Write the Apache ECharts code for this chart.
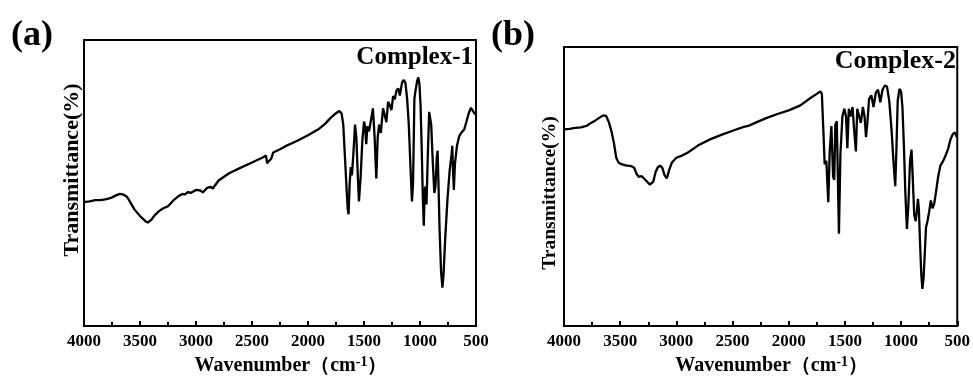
<!DOCTYPE html>
<html><head><meta charset="utf-8">
<script src="https://cdn.jsdelivr.net/npm/echarts@6/dist/echarts.min.js"></script>
<style>html,body{margin:0;padding:0;background:#fff}#c{width:973px;height:382px}</style>
</head><body><div id="c"></div>
<script>
// Panel (a) Complex-1: wavenumber (cm-1) and transmittance (arbitrary %, 0-100 of frame)
var wnA = [4000,3950,3900,3850,3800,3760,3720,3680,3650,3620,3600,3550,3500,3450,3430,3400,3370,3330,3300,3250,3200,3150,3120,3100,3070,3050,3000,2960,2940,2900,2870,2850,2800,2750,2700,2600,2500,2400,2375,2365,2350,2330,2310,2250,2200,2100,2000,1900,1850,1800,1750,1720,1700,1685,1670,1655,1645,1638,1628,1618,1608,1595,1580,1568,1555,1545,1530,1515,1500,1490,1480,1470,1455,1440,1420,1405,1390,1378,1365,1350,1330,1315,1300,1285,1270,1255,1240,1225,1210,1195,1180,1160,1145,1130,1115,1100,1085,1072,1062,1050,1040,1025,1015,1005,995,985,975,966,958,950,942,930,918,910,900,885,872,862,850,843,835,825,812,800,790,775,755,735,718,712,705,698,688,670,650,625,605,585,565,545,530,515,500];
var tA = [43.3,43.6,44.0,44.0,44.4,44.8,45.6,46.2,46.0,45.3,44.2,40.8,38.5,36.6,36.2,37.1,38.7,40.2,41.0,41.9,44.0,45.6,46.2,46.0,46.9,46.5,47.6,47.4,46.7,48.3,48.7,48.1,50.8,52.2,53.5,55.4,57.2,59.0,59.6,56.9,57.6,58.4,60.7,61.8,62.9,64.7,66.7,69.0,70.6,72.7,74.4,75.2,74.3,70.4,59.0,47.6,40.8,39.1,49.9,55.6,52.7,60.1,70.4,65.8,52.2,43.6,52.2,64.7,71.5,69.8,63.6,69.8,68.1,68.6,76.1,65.8,51.6,65.8,70.4,67.5,76.1,76.7,71.3,78.4,77.2,75.5,80.4,79.3,82.3,83.1,80.6,85.2,86.0,85.0,79.5,70.4,55.6,43.6,49.9,79.5,82.3,85.8,86.9,84.6,77.2,62.6,45.3,35.1,47.6,48.8,42.5,60.1,74.9,75.5,70.4,56.7,46.5,48.8,59.0,61.3,49.9,33.5,19.1,13.4,18.0,30.5,44.2,54.4,60.1,63.0,54.4,47.6,56.7,63.0,66.4,67.9,68.7,71.5,74.4,76.3,76.1,74.4,73.8];
// Panel (b) Complex-2
var wnB = [4000,3950,3900,3850,3800,3760,3720,3680,3650,3625,3600,3575,3555,3535,3515,3490,3450,3400,3375,3355,3335,3310,3285,3260,3235,3220,3205,3185,3165,3145,3125,3105,3085,3065,3040,3000,2950,2900,2850,2800,2700,2600,2500,2400,2360,2300,2200,2100,2000,1900,1800,1750,1720,1705,1692,1680,1665,1648,1635,1620,1605,1595,1585,1572,1560,1553,1540,1522,1505,1490,1478,1465,1450,1432,1418,1402,1390,1375,1358,1340,1325,1312,1300,1285,1265,1245,1225,1205,1185,1165,1145,1125,1105,1085,1068,1052,1042,1030,1015,1000,988,975,962,948,935,920,907,897,883,870,860,850,842,832,820,810,800,790,778,765,750,735,720,705,690,670,650,625,600,580,560,540,520,505];
var tB = [70.5,70.7,71.0,71.2,71.7,72.8,73.7,74.8,75.5,75.3,73.0,69.4,65.4,60.3,58.6,58.0,57.6,57.3,56.7,54.6,53.5,53.7,52.8,51.7,50.7,50.1,51.8,55.2,56.9,57.5,56.7,54.1,52.9,55.8,58.6,60.3,61.1,62.1,63.5,64.9,66.9,68.5,70.0,71.4,71.7,72.8,74.5,76.0,77.3,79.0,81.9,83.2,84.1,83.2,70.5,58.0,59.2,44.4,62.6,71.7,53.5,52.4,72.2,73.4,47.8,33.1,61.5,75.1,77.9,75.1,63.7,77.9,75.1,78.5,70.5,62.6,77.9,77.3,72.8,78.5,75.1,67.7,72.8,81.3,82.7,78.5,83.6,84.7,80.2,84.7,86.2,85.8,80.6,70.5,59.2,50.1,62.6,80.7,85.0,84.1,78.5,64.9,47.8,34.8,43.3,59.2,63.2,54.1,39.9,37.6,41.0,45.6,42.2,30.8,18.4,13.3,17.2,25.2,35.4,37.6,41.0,45.0,42.2,43.9,47.8,53.5,57.5,59.2,61.5,63.7,66.9,68.8,69.4,67.7];
var xTicks = {min:500, max:4000, interval:500};
var panelTags = ['(a)','(b)'];
var sampleNames = ['Complex-1','Complex-2'];
var yTitle = 'Transmittance(%)';

var SERIF = '"Liberation Serif","Times New Roman",serif';
function pairs(x,y){return x.map(function(v,i){return [v,y[i]];});}
var grids = [
  {left:84, top:40, width:392, height:293},
  {left:564, top:47, width:396, height:294}
];
function xAxis(i){
  return {
    gridIndex:i, type:'value', inverse:true, min:xTicks.min, max:xTicks.max, interval:xTicks.interval,
    axisLine:{show:true, lineStyle:{color:'#000', width:2}},
    axisTick:{show:true, inside:true, length:5, lineStyle:{color:'#000', width:2}},
    minorTick:{show:true, splitNumber:2, length:4, lineStyle:{color:'#000', width:2}},
    splitLine:{show:false},
    axisLabel:{color:'#000', fontFamily:SERIF, fontWeight:'bold', fontSize:17, margin:7,
      formatter:function(v){return String(v);}},
    name:'{t|Wavenumber}{p|（cm}{s|-1}{p|）}',
    nameLocation:'middle', nameGap:28,
    nameTextStyle:{padding:[0,0,0,22], rich:{
      t:{fontFamily:SERIF, fontWeight:'bold', fontSize:20, color:'#000', lineHeight:22},
      p:{fontFamily:SERIF, fontWeight:'bold', fontSize:20, color:'#000', lineHeight:22},
      s:{fontFamily:SERIF, fontWeight:'bold', fontSize:14, color:'#000', verticalAlign:'top', lineHeight:22, padding:[0,0,8,0]}
    }}
  };
}
function yAxis(i){
  return {
    gridIndex:i, type:'value', min:0, max:100,
    axisLine:{show:true, lineStyle:{color:'#000', width:2}},
    axisTick:{show:false}, axisLabel:{show:false}, splitLine:{show:false}
  };
}
var option = {
  backgroundColor:'#fff',
  animation:false,
  grid: grids.map(function(g){return Object.assign({show:true, borderColor:'#000', borderWidth:2, backgroundColor:'transparent'}, g);}),
  xAxis:[xAxis(0), xAxis(1)],
  yAxis:[yAxis(0), yAxis(1)],
  series:[
    {type:'line', xAxisIndex:0, yAxisIndex:0, data:pairs(wnA,tA), showSymbol:false, lineStyle:{color:'#000', width:2.3}, itemStyle:{color:'#000'}},
    {type:'line', xAxisIndex:1, yAxisIndex:1, data:pairs(wnB,tB), showSymbol:false, lineStyle:{color:'#000', width:2.3}, itemStyle:{color:'#000'}}
  ],
  graphic:[
    {type:'text', left:11, top:18, style:{text:panelTags[0], font:'bold 36px '+SERIF, fill:'#000'}},
    {type:'text', left:491, top:18, style:{text:panelTags[1], font:'bold 36px '+SERIF, fill:'#000'}},
    {type:'text', right:973-473, top:45, style:{text:sampleNames[0], font:'bold 25px '+SERIF, fill:'#000'}},
    {type:'text', right:973-956, top:48, style:{text:sampleNames[1], font:'bold 26px '+SERIF, fill:'#000'}},
    {type:'text', x:72, y:170, rotation:Math.PI/2, style:{text:yTitle, font:'bold 22px '+SERIF, fill:'#000', align:'center', verticalAlign:'middle'}},
    {type:'text', x:550, y:193, rotation:Math.PI/2, style:{text:yTitle, font:'bold 19.5px '+SERIF, fill:'#000', align:'center', verticalAlign:'middle'}}
  ]
};
echarts.init(document.getElementById('c')).setOption(option);
</script></body></html>
